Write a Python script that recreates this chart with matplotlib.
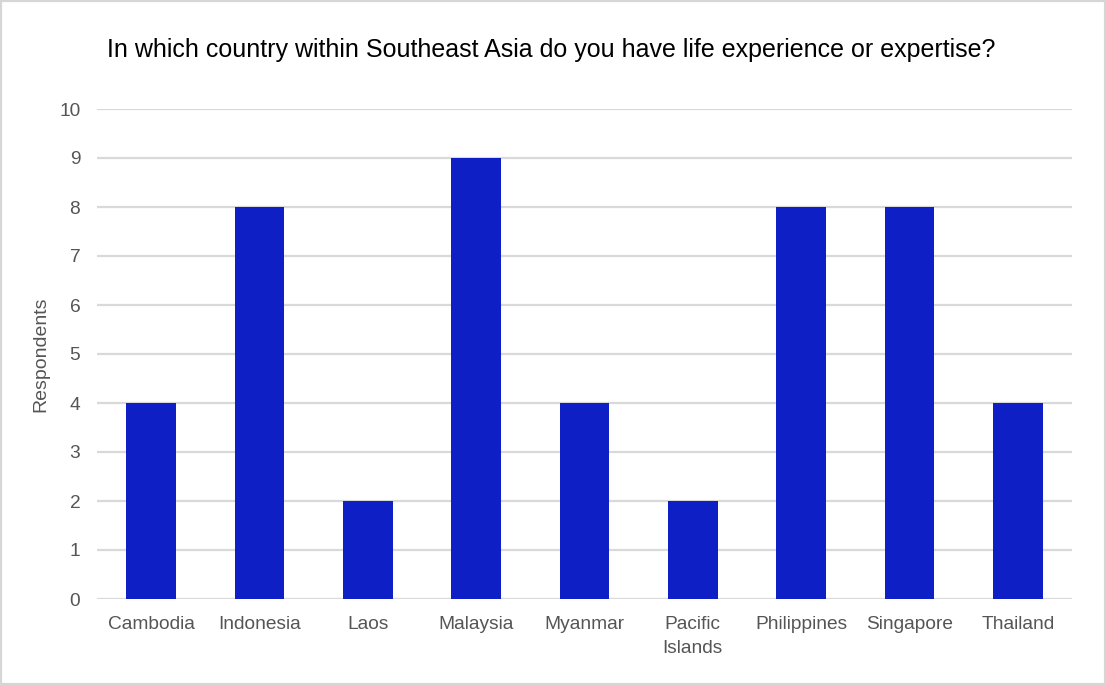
import matplotlib.pyplot as plt
from matplotlib.patches import Rectangle

plt.rcParams['font.family'] = ['Liberation Sans', 'DejaVu Sans']

countries = ['Cambodia', 'Indonesia', 'Laos', 'Malaysia', 'Myanmar',
             'Pacific\nIslands', 'Philippines', 'Singapore', 'Thailand']
respondents = [4, 8, 2, 9, 4, 2, 8, 8, 4]
yticks = list(range(0, 11))

fig = plt.figure(figsize=(11.06, 6.85), dpi=100)
ax = fig.add_axes([97/1106, 86/685, 975/1106, 490/685])

x = list(range(len(countries)))
ax.bar(x, respondents, width=0.46, color='#0f1fc6', zorder=3)

ax.set_xlim(-0.5, len(countries) - 0.5)
ax.set_ylim(0, 10)
ax.set_yticks(yticks)
ax.set_xticks(x)
ax.set_xticklabels(countries, linespacing=1.55)
ax.grid(axis='y', color='#d9d9d9', linewidth=1.6, zorder=0)
for s in ax.spines.values():
    s.set_visible(False)
ax.tick_params(length=0, labelsize=13.8, colors='#555555')
ax.tick_params(axis='y', pad=12)
ax.tick_params(axis='x', pad=12)
ax.set_ylabel('Respondents', fontsize=14, color='#555555')
ax.yaxis.set_label_coords(-48/975, 0.5)

fig.text(551/1106, 1 - 50/685, 'In which country within Southeast Asia do you have life experience or expertise?',
         ha='center', va='center', fontsize=18, color='#000000')

fig.patches.append(Rectangle((0, 0), 1, 1, transform=fig.transFigure, fill=False,
                             edgecolor='#d6d6d6', linewidth=3))

fig.savefig('out.png', dpi=100)
